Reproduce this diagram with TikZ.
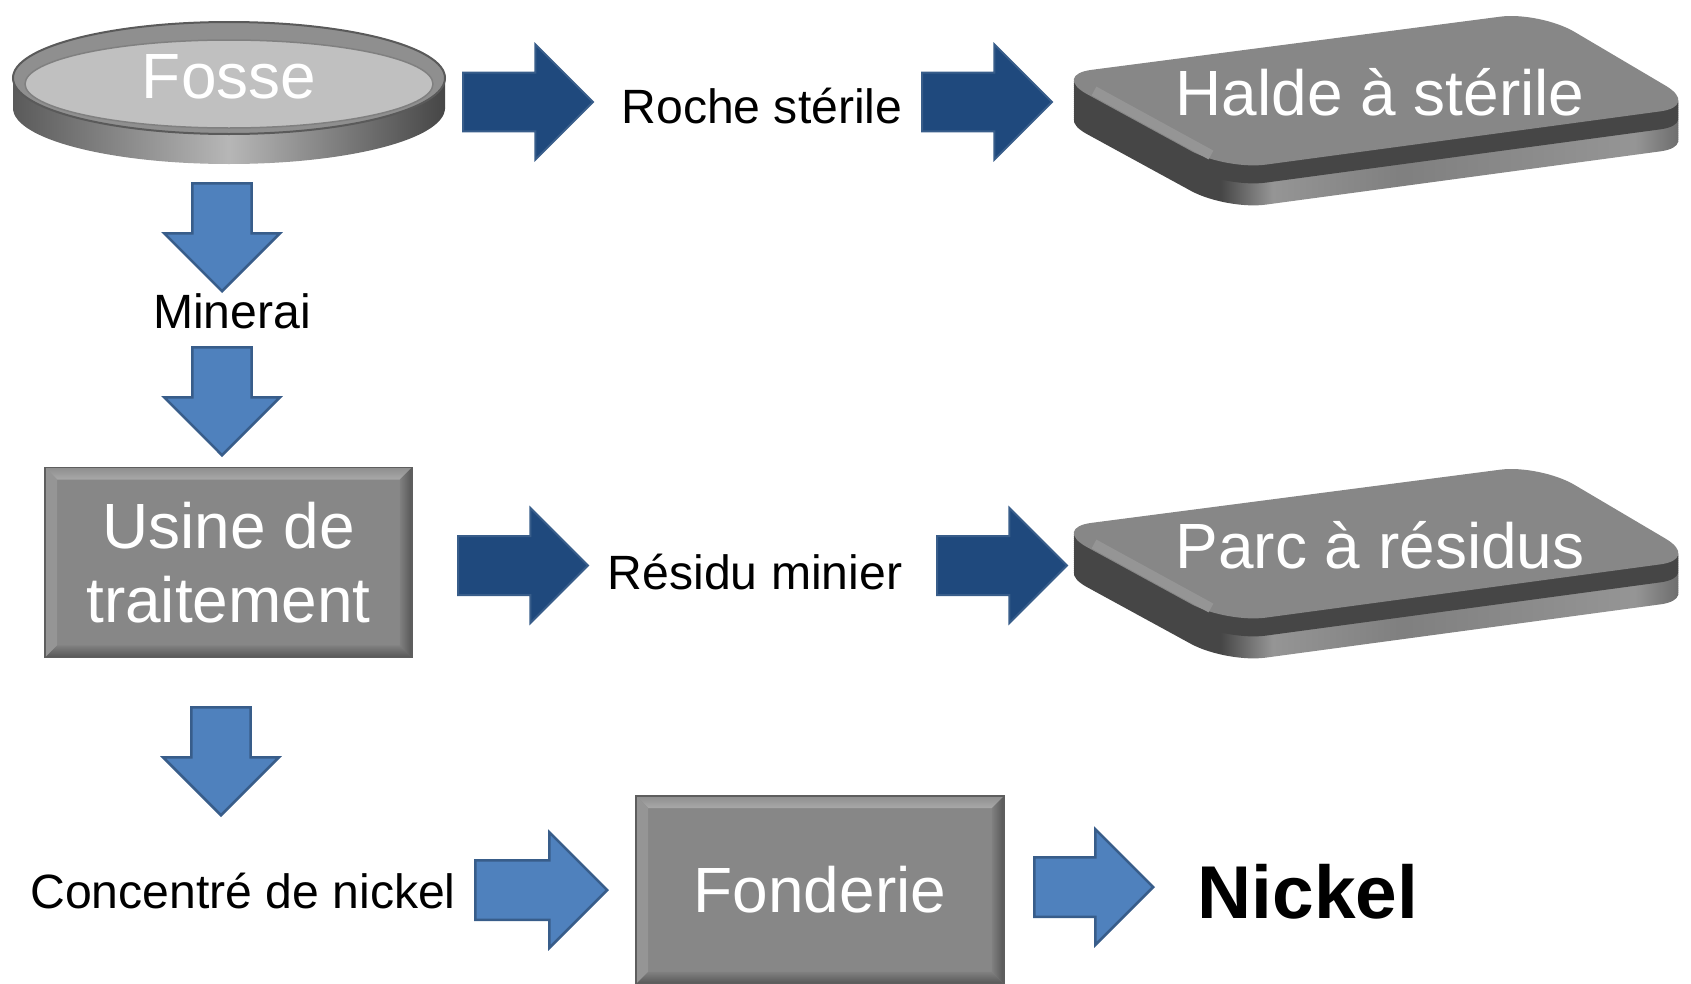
\documentclass[tikz,border=0pt]{standalone}
\usepackage{fontspec}
\setmainfont{Liberation Sans}
\usetikzlibrary{shapes.arrows}

\definecolor{darkblue}{HTML}{1F497D}
\definecolor{midblue}{HTML}{4F81BD}
\definecolor{blueedge}{HTML}{385D8A}
\definecolor{facegray}{HTML}{878787}
\definecolor{edgegray}{HTML}{5E5E5E}
\definecolor{slabdark}{HTML}{464646}
\definecolor{slabmid}{HTML}{5A5A5A}
\definecolor{slablight}{HTML}{959595}
\definecolor{rimgray}{HTML}{8F8F8F}
\definecolor{pitgray}{HTML}{C0C0C0}
\definecolor{bevtop}{HTML}{A8A8A8}
\definecolor{bevleft}{HTML}{959595}
\definecolor{bevdark}{HTML}{565656}

\pgfdeclarehorizontalshading{slabside}{100bp}{color(0bp)=(slabdark); color(25bp)=(slabdark); color(38bp)=(slabdark); color(42bp)=(slablight); color(52bp)=(gray); color(70bp)=(slablight); color(75bp)=(slabmid); color(100bp)=(slabmid)}

\tikzset{
  pics/slab/.style={code={
    % side, swept down from the top face
    \foreach \d in {40,38,...,20}
      \shade[shading=slabside, rounded corners=0.8cm, shift={(0,\d)}] (-328,-17) -- (160,-80.5) -- (320,14) -- (-154,78) -- cycle;
    \foreach \d in {18,16,...,2}
      \fill[slabdark, rounded corners=0.8cm, shift={(0,\d)}] (-328,-17) -- (160,-80.5) -- (320,14) -- (-154,78) -- cycle;
    % top face
    \fill[facegray, rounded corners=0.8cm] (-328,-17) -- (160,-80.5) -- (320,14) -- (-154,78) -- cycle;
    \draw[slablight, line width=0.2cm] (-286,-1) -- (-169,63);
  }}
}

\begin{document}
\begin{tikzpicture}[x=0.02cm, y=-0.02cm]

%STYLE SETTINGS
\tikzstyle{bigtext}=[text=white, font=\fontsize{36.4}{42.5}\selectfont, align=center]
\tikzstyle{label}=[text=black, font=\fontsize{27.4}{32}\selectfont]
\tikzstyle{darrow}=[single arrow, anchor=tail, fill=darkblue, draw=blueedge, line width=0.04cm, inner xsep=0pt, inner ysep=0.57cm, single arrow head extend=0.56cm, minimum height=2.6cm]
\tikzstyle{larrow}=[darrow, fill=midblue, line width=0.05cm]
\tikzstyle{downarrow}=[larrow, rotate=-90, minimum height=2.16cm]
\tikzstyle{pitside}=[left color=slabmid, right color=slabdark, middle color=pitgray!95!black]
\tikzstyle{bevelbox}=[bigtext, rectangle, fill=facegray, draw=edgegray, line width=0.03cm, inner sep=0pt,
  path picture={
    \coordinate (nw) at (path picture bounding box.north west);
    \coordinate (ne) at (path picture bounding box.north east);
    \coordinate (sw) at (path picture bounding box.south west);
    \coordinate (se) at (path picture bounding box.south east);
    \shade[top color=rimgray, bottom color=bevtop] (nw) -- (ne) -- ([shift={(-0.24cm,-0.24cm)}]ne) -- ([shift={(0.24cm,-0.24cm)}]nw) -- cycle;
    \fill[bevleft] (nw) -- ([shift={(0.24cm,-0.24cm)}]nw) -- ([shift={(0.24cm,0.24cm)}]sw) -- (sw) -- cycle;
    \shade[left color=gray, right color=bevdark] (ne) -- ([shift={(-0.24cm,-0.24cm)}]ne) -- ([shift={(-0.24cm,0.24cm)}]se) -- (se) -- cycle;
    \shade[top color=gray, bottom color=bevdark] (sw) -- (se) -- ([shift={(-0.24cm,0.24cm)}]se) -- ([shift={(0.24cm,0.24cm)}]sw) -- cycle;
  }]

\useasboundingbox (0,0) rectangle (1691,984);

%PIT
\shade[pitside] (13,78) rectangle (445,108);
\shade[pitside] (229,108) ellipse[x radius=216, y radius=56];
\fill[rimgray, draw=slabmid, line width=0.04cm] (229,78) ellipse[x radius=216, y radius=56];
\fill[pitgray, draw=gray, line width=0.03cm] (229,84) ellipse[x radius=204, y radius=44];

%SLABS
\pic at (1380,92) {slab};
\pic at (1380,545) {slab};

%NODES
\node[bigtext] (fosse) at (229,77) {Fosse};
\node[label] (roche) at (762,106) {Roche stérile};
\node[bigtext] (halde) at (1380,92) {Halde à stérile};
\node[label] (minerai) at (232,311) {Minerai};
\node[bevelbox, minimum width=7.34cm, minimum height=3.8cm] (usine) at (228.5,562.5) {Usine de\\traitement};
\node[label] (residu) at (755,572) {Résidu minier};
\node[bigtext] (parc) at (1380,545) {Parc à résidus};
\node[label] (concentre) at (243,891) {Concentré de nickel};
\node[bevelbox, minimum width=7.36cm, minimum height=3.76cm] (fonderie) at (820,890) {Fonderie};
\node[label, font=\bfseries\fontsize{42.6}{49}\selectfont] (nickel) at (1308,892) {Nickel};

%ARROWS
\node[darrow] (a1) at (462,102) {};
\node[darrow] (a2) at (921,102) {};
\node[darrow] (a3) at (457,565.5) {};
\node[darrow] (a4) at (936,565.5) {};
\node[larrow, minimum height=2.64cm] (a5) at (474,890) {};
\node[larrow, minimum height=2.38cm] (a6) at (1033,887) {};
\node[downarrow] (d1) at (222,182) {};
\node[downarrow] (d2) at (222,346) {};
\node[downarrow] (d3) at (221,706) {};

\end{tikzpicture}
\end{document}
